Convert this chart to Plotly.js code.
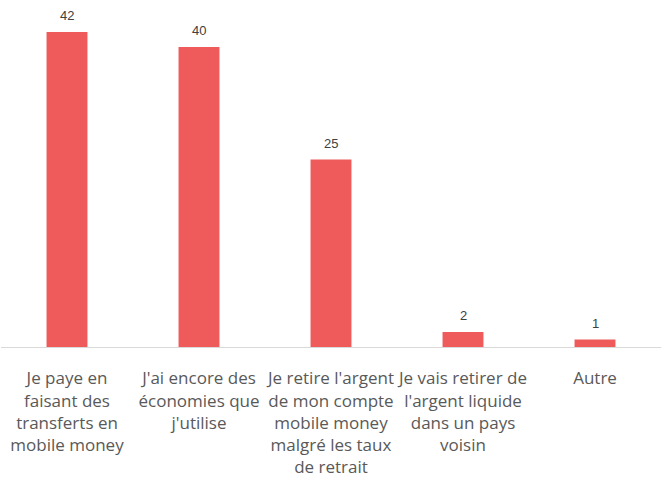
<!DOCTYPE html>
<html><head><meta charset="utf-8">
<script src="https://cdn.plot.ly/plotly-3.0.1.min.js"></script>
<style>html,body{margin:0;padding:0;background:#fff;}</style>
</head><body>
<div id="chart" style="width:661px;height:483px;"></div>
<script>
const categories = [
  "Je paye en<br>faisant des<br>transferts en<br>mobile money",
  "J'ai encore des<br>économies que<br>j'utilise",
  "Je retire l'argent<br>de mon compte<br>mobile money<br>malgré les taux<br>de retrait",
  "Je vais retirer de<br>l'argent liquide<br>dans un pays<br>voisin",
  "Autre"
];
const values = [42, 40, 25, 2, 1];

const labels = categories.map((c, i) => ({
  x: c, y: values[i], xref: 'x', yref: 'y',
  text: String(values[i]), showarrow: false,
  yanchor: 'bottom', yshift: 7,
  font: {family: 'Liberation Sans, Arial, sans-serif', size: 13, color: '#404040'}
}));

Plotly.newPlot('chart', [{
  type: 'bar',
  x: categories,
  y: values,
  marker: {color: '#EF5A5B'},
  cliponaxis: false
}], {
  width: 661, height: 483,
  margin: {l: 1, r: 0, t: 2, b: 136},
  bargap: 0.69,
  paper_bgcolor: '#fff', plot_bgcolor: '#fff',
  showlegend: false,
  annotations: labels,
  xaxis: {
    showline: true, linecolor: '#d9d9d9', linewidth: 1,
    ticks: 'outside', ticklen: 16, tickcolor: 'rgba(0,0,0,0)', showgrid: false,
    tickfont: {family: 'Open Sans, sans-serif', size: 17, color: '#595959'},
    tickangle: 0, automargin: false
  },
  yaxis: {
    range: [0, 46], visible: false, showgrid: false, zeroline: false
  }
}, {displayModeBar: false, staticPlot: true});
</script>
</body></html>
